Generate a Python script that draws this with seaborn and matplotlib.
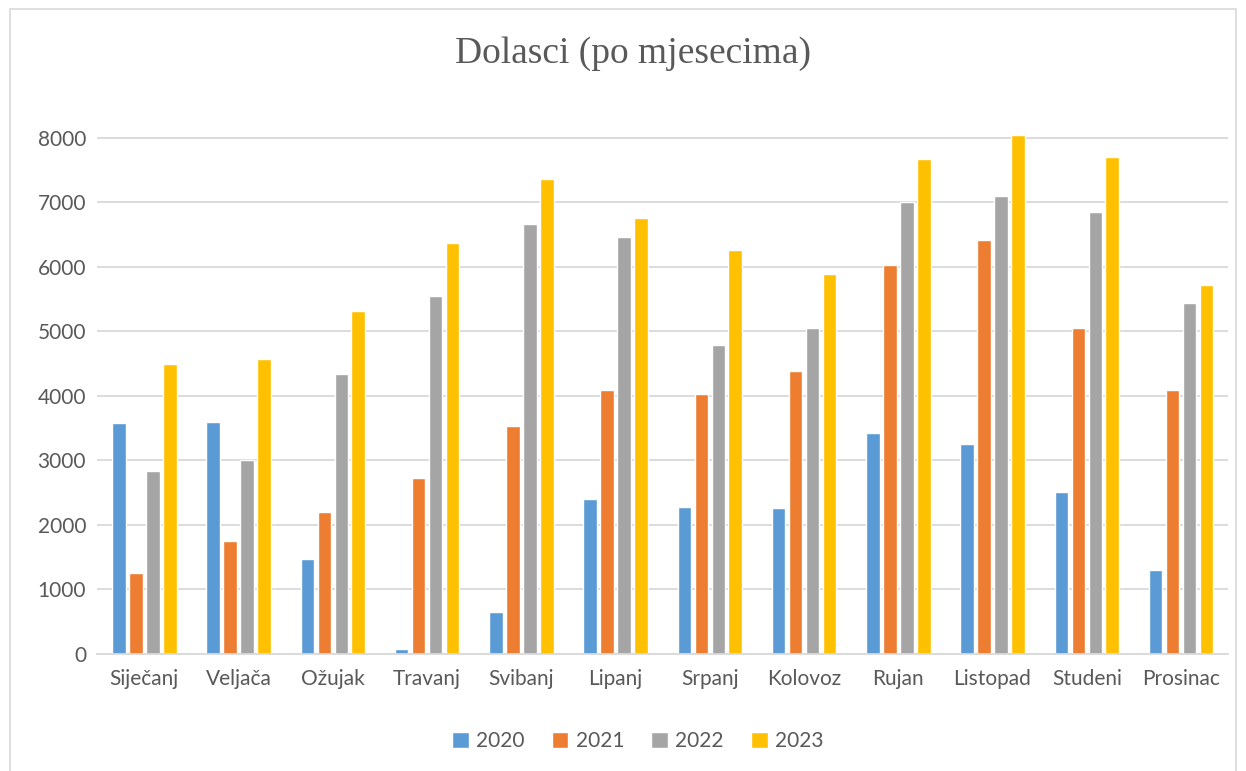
import pandas as pd
import seaborn as sns
import matplotlib.pyplot as plt
from matplotlib.patches import Rectangle

# data
months = ["Siječanj", "Veljača", "Ožujak", "Travanj", "Svibanj", "Lipanj",
          "Srpanj", "Kolovoz", "Rujan", "Listopad", "Studeni", "Prosinac"]
years = ["2020", "2021", "2022", "2023"]
y2020 = [3575, 3600, 1470, 78, 650, 2410, 2280, 2256, 3420, 3260, 2507, 1307]
y2021 = [1252, 1750, 2200, 2725, 3540, 4100, 4030, 4380, 6027, 6421, 5051, 4091]
y2022 = [2835, 3006, 4341, 5545, 6660, 6470, 4790, 5061, 7003, 7093, 6848, 5435]
y2023 = [4496, 4574, 5318, 6370, 7360, 6755, 6260, 5893, 7669, 8053, 7712, 5728]
colors = ["#5B9BD5", "#ED7D31", "#A5A5A5", "#FFC000"]

df = pd.DataFrame({"Mjesec": months * 4,
                   "Godina": [y for y in years for _ in months],
                   "Dolasci": y2020 + y2021 + y2022 + y2023})

sns.set_style("white")
plt.rcParams["font.family"] = ["Lato", "DejaVu Sans"]

fig = plt.figure(figsize=(12.46, 7.71), dpi=100)
ax = fig.add_axes([0.078, 0.1518, 0.9077, 0.686])

sns.barplot(data=df, x="Mjesec", y="Dolasci", hue="Godina", palette=colors,
            saturation=1, width=0.72, gap=0.2, ax=ax, legend=True)

ax.set_ylim(0, 8200)
ax.set_xlim(-0.5, 11.5)
ax.set_yticks(range(0, 8001, 1000))
ax.yaxis.grid(True, color="#d9d9d9", linewidth=1.3)
ax.set_axisbelow(True)
for s in ["top", "right", "left"]:
    ax.spines[s].set_visible(False)
ax.spines["bottom"].set_color("#d9d9d9")
ax.spines["bottom"].set_linewidth(1.3)
ax.tick_params(axis="both", length=0, labelsize=15, colors="#595959", pad=8)
ax.tick_params(axis="x", pad=11)
ax.set_xlabel("")
ax.set_ylabel("")

fig.text(0.508, 0.93, "Dolasci (po mjesecima)", ha="center", va="center",
         fontsize=27, color="#595959", family="Liberation Serif")

ax.legend(loc="center", bbox_to_anchor=(0.478, -0.165), ncol=4, frameon=False,
          fontsize=15, labelcolor="#595959", handlelength=0.8, handleheight=0.8,
          columnspacing=1.3, handletextpad=0.35)

fig.patches.append(Rectangle((0.008, -0.01), 0.984, 0.998, transform=fig.transFigure,
                             fill=False, edgecolor="#d9d9d9", linewidth=1.2))

fig.savefig("out.png", dpi=100)
